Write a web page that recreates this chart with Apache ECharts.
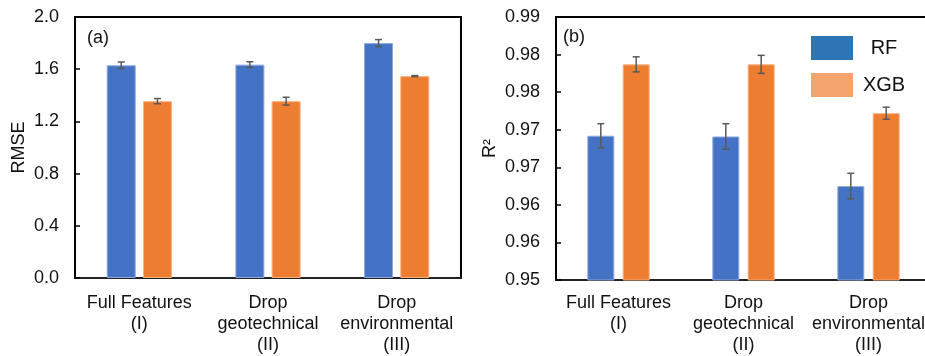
<!DOCTYPE html>
<html>
<head>
<meta charset="utf-8">
<script src="https://cdn.jsdelivr.net/npm/echarts@6/dist/echarts.min.js"></script>
<style>
  html, body { margin: 0; padding: 0; background: #fff; }
  #chart { width: 925px; height: 356px; }
</style>
</head>
<body>
<div id="chart"></div>
<script>
// Feature-set scenarios shown on both panels
const categories = ['Full Features\n(I)', 'Drop\ngeotechnical\n(II)', 'Drop\nenvironmental\n(III)'];

// Panel (a): RMSE means and standard deviations
const rmseRF = [1.63, 1.635, 1.80];
const rmseRFErr = [0.025, 0.022, 0.027];
const rmseXGB = [1.355, 1.355, 1.547];
const rmseXGBErr = [0.02, 0.03, 0.004];

// Panel (b): R² means and standard deviations
const r2RF = [0.9692, 0.9691, 0.9625];
const r2RFErr = [0.0016, 0.0017, 0.0017];
const r2XGB = [0.9787, 0.9787, 0.9722];
const r2XGBErr = [0.0010, 0.0012, 0.0008];

// Tick labels as printed on each value axis
const rmseTicks = ['0.0', '0.4', '0.8', '1.2', '1.6', '2.0'];
const r2Ticks = ['0.95', '0.96', '0.96', '0.97', '0.97', '0.98', '0.98', '0.99'];

const BLUE = '#4472C4';
const ORANGE = '#ED7D31';
const FONT = 'Liberation Sans, Arial, sans-serif';

// Bar geometry per panel: offset of each bar from its category centre
const panels = [
  { barWidth: 29, gapRatio: 0.25 },
  { barWidth: 27, gapRatio: 0.31 }
];
function barOffset(p, side) {
  const w = panels[p].barWidth;
  return side * (w + w * panels[p].gapRatio) / 2;
}

function errorSeries(gridIdx, values, errs, side) {
  return {
    type: 'custom',
    xAxisIndex: gridIdx,
    yAxisIndex: gridIdx,
    z: 5,
    data: values.map((v, i) => [i, v, errs[i]]),
    renderItem: function (params, api) {
      const i = api.value(0), v = api.value(1), e = api.value(2);
      const hi = api.coord([i, v + e]);
      const lo = api.coord([i, v - e]);
      const x = hi[0] + barOffset(gridIdx, side);
      const cap = 3.5;
      const style = { stroke: '#595959', lineWidth: 1.5, fill: null };
      return {
        type: 'group',
        children: [
          { type: 'line', shape: { x1: x, y1: hi[1], x2: x, y2: lo[1] }, style: style },
          { type: 'line', shape: { x1: x - cap, y1: hi[1], x2: x + cap, y2: hi[1] }, style: style },
          { type: 'line', shape: { x1: x - cap, y1: lo[1], x2: x + cap, y2: lo[1] }, style: style }
        ]
      };
    }
  };
}

function barSeries(name, gridIdx, values, color, lighter, isLast) {
  const s = {
    name: name,
    type: 'bar',
    xAxisIndex: gridIdx,
    yAxisIndex: gridIdx,
    barWidth: panels[gridIdx].barWidth,
    data: values,
    itemStyle: { color: color, borderColor: lighter, borderWidth: 1 },
    emphasis: { disabled: true }
  };
  if (isLast) s.barGap = Math.round(panels[gridIdx].gapRatio * 100) + '%';
  return s;
}

const xAxisBase = {
  type: 'category',
  data: categories,
  axisLine: { show: true, lineStyle: { color: '#222', width: 2 } },
  axisTick: { show: false },
  axisLabel: { color: '#111', fontSize: 18, fontFamily: FONT, lineHeight: 21, interval: 0 }
};

const chart = echarts.init(document.getElementById('chart'), null, { renderer: 'canvas' });
chart.setOption({
  backgroundColor: '#fff',
  animation: false,
  textStyle: { fontFamily: FONT },
  grid: [
    { left: 75, top: 17, width: 386, height: 261, outerBoundsMode: 'none', containLabel: false,
      show: true, borderColor: '#000', borderWidth: 2, backgroundColor: 'transparent' },
    { left: 556, top: 17, width: 375, height: 263, outerBoundsMode: 'none', containLabel: false,
      show: true, borderColor: '#000', borderWidth: 2, backgroundColor: 'transparent' }
  ],
  xAxis: [
    Object.assign({ gridIndex: 0 }, xAxisBase, { axisLabel: Object.assign({}, xAxisBase.axisLabel, { margin: 15 }) }),
    Object.assign({ gridIndex: 1 }, xAxisBase, { axisLabel: Object.assign({}, xAxisBase.axisLabel, { margin: 13 }) })
  ],
  yAxis: [
    {
      gridIndex: 0, type: 'value', min: 0, max: 2.0, interval: 0.4,
      name: 'RMSE', nameLocation: 'middle', nameGap: 47,
      nameTextStyle: { color: '#111', fontSize: 18, fontFamily: FONT },
      axisLine: { show: true, lineStyle: { color: '#000', width: 2 } },
      axisTick: { show: true, inside: true, length: 5, lineStyle: { color: '#000', width: 1.5 } },
      splitLine: { show: false },
      axisLabel: {
        color: '#111', fontSize: 18, fontFamily: FONT, margin: 16,
        formatter: v => rmseTicks[Math.round(v / 0.4)]
      }
    },
    {
      gridIndex: 1, type: 'value', min: 0.95, max: 0.985, interval: 0.005,
      name: 'R²', nameLocation: 'middle', nameGap: 57,
      nameTextStyle: { color: '#111', fontSize: 18, fontFamily: FONT },
      axisLine: { show: true, lineStyle: { color: '#000', width: 2 } },
      axisTick: { show: true, inside: true, length: 5, lineStyle: { color: '#000', width: 1.5 } },
      splitLine: { show: false },
      axisLabel: {
        color: '#111', fontSize: 18, fontFamily: FONT, margin: 16,
        formatter: v => r2Ticks[Math.round((v - 0.95) / 0.005)]
      }
    }
  ],
  legend: {
    orient: 'vertical',
    left: 811,
    top: 36,
    padding: 0,
    itemWidth: 42,
    itemHeight: 24,
    itemGap: 13,
    icon: 'rect',
    selectedMode: false,
    data: [
      { name: 'RF', itemStyle: { color: '#2E75B6', borderWidth: 0 } },
      { name: 'XGB', itemStyle: { color: '#F4A46C', borderWidth: 0 } }
    ],
    formatter: '{c|{name}}',
    textStyle: {
      rich: { c: { width: 52, align: 'center', fontSize: 20, color: '#111', fontFamily: FONT } }
    }
  },
  graphic: [
    { type: 'text', left: 87, top: 29, style: { text: '(a)', fontSize: 18, fontFamily: FONT, fill: '#111' } },
    { type: 'text', left: 563, top: 28, style: { text: '(b)', fontSize: 18, fontFamily: FONT, fill: '#111' } }
  ],
  series: [
    barSeries('RF', 0, rmseRF, BLUE, '#8FAADC', false),
    barSeries('XGB', 0, rmseXGB, ORANGE, '#F4B183', true),
    barSeries('RF', 1, r2RF, BLUE, '#8FAADC', false),
    barSeries('XGB', 1, r2XGB, ORANGE, '#F4B183', true),
    errorSeries(0, rmseRF, rmseRFErr, -1),
    errorSeries(0, rmseXGB, rmseXGBErr, 1),
    errorSeries(1, r2RF, r2RFErr, -1),
    errorSeries(1, r2XGB, r2XGBErr, 1)
  ]
});
</script>
</body>
</html>
